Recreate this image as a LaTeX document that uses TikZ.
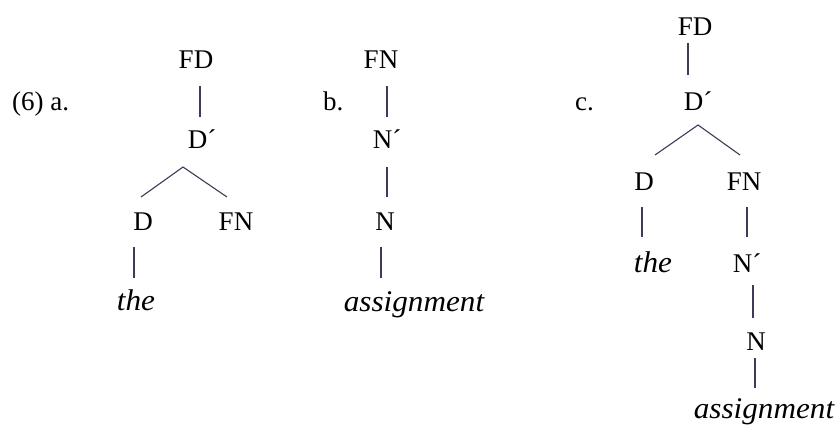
\documentclass[tikz,border=0pt]{standalone}
\usepackage{fontspec}
\setmainfont{Liberation Serif}
\newfontfamily\wordfont[FakeStretch=1.04]{Liberation Serif Italic}
\begin{document}
\begin{tikzpicture}[x=1pt,y=-1pt,
  lab/.style={anchor=base,inner sep=0pt,font=\fontsize{27}{30}\selectfont},
  word/.style={anchor=base,inner sep=0pt,font=\wordfont\fontsize{30}{34}\selectfont},
  num/.style={anchor=base west,inner sep=0pt,font=\fontsize{27}{30}\selectfont},
  edge/.style={draw={rgb,255:red,60;green,60;blue,90},line width=1.1pt}]
\useasboundingbox (0,0) rectangle (835,426);

% (6) a.
\node[num] (na) at (12,110) {(6) a.};
\node[lab] (aFD) at (196,68) {FD};
\node[lab] (aDp) at (202,148) {D´};
\node[lab] (aD) at (143,230) {D};
\node[lab] (aFN) at (236,230) {FN};
\node[word] (athe) at (136,310) {the};
\draw[edge] ([xshift=4pt,yshift=-18pt]aFD.base) -- ([xshift=-2pt,yshift=31pt]aDp.base);
\draw[edge] ([xshift=-2pt,yshift=33pt]aD.base) -- ([xshift=-19pt,yshift=-19pt]aDp.base)
            -- ([xshift=-9pt,yshift=33pt]aFN.base);
\draw[edge] ([xshift=-9pt,yshift=-17pt]aD.base) -- ([xshift=-2pt,yshift=32pt]athe.base);

% b.
\node[num] (nb) at (323,110) {b.};
\node[lab] (bFN) at (381,68) {FN};
\node[lab] (bNp) at (387,148) {N´};
\node[lab] (bN) at (385,230) {N};
\node[word] (bw) at (414,311) {assignment};
\draw[edge] ([xshift=6pt,yshift=-18pt]bFN.base) -- ([yshift=31pt]bNp.base);
\draw[edge] ([yshift=-19pt]bNp.base) -- ([xshift=2pt,yshift=33pt]bN.base);
\draw[edge] ([xshift=-4pt,yshift=-17pt]bN.base) -- ([xshift=-33pt,yshift=33pt]bw.base);

% c.
\node[num] (nc) at (575,110) {c.};
\node[lab] (cFD) at (695,35) {FD};
\node[lab] (cDp) at (698,110) {D´};
\node[lab] (cD) at (644,190) {D};
\node[lab] (cFN) at (744,190) {FN};
\node[word] (cthe) at (653,272) {the};
\node[lab] (cNp) at (747,272) {N´};
\node[lab] (cN) at (756,350) {N};
\node[word] (cw) at (764,418) {assignment};
\draw[edge] ([xshift=-7pt,yshift=-8pt]cFD.base) -- ([xshift=-10pt,yshift=35pt]cDp.base);
\draw[edge] ([xshift=11pt,yshift=35pt]cD.base) -- ([yshift=-15pt]cDp.base)
            -- ([xshift=-4pt,yshift=35pt]cFN.base);
\draw[edge] ([xshift=-2pt,yshift=-17pt]cD.base) -- ([xshift=-11pt,yshift=35pt]cthe.base);
\draw[edge] ([xshift=3pt,yshift=-17pt]cFN.base) -- ([yshift=35pt]cNp.base);
\draw[edge] ([xshift=6pt,yshift=-13pt]cNp.base) -- ([xshift=-3pt,yshift=32pt]cN.base);
\draw[edge] ([xshift=-1pt,yshift=-8pt]cN.base) -- ([xshift=-9pt,yshift=30pt]cw.base);
\end{tikzpicture}
\end{document}
